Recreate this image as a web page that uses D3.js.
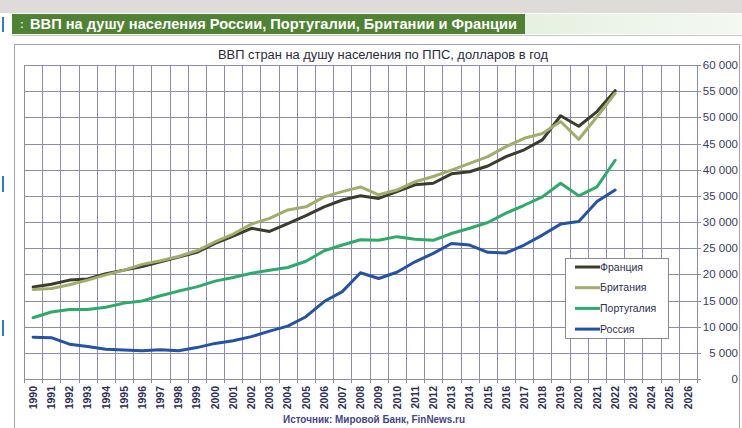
<!DOCTYPE html>
<html>
<head>
<meta charset="utf-8">
<script src="https://cdn.jsdelivr.net/npm/d3@7"></script>
<style>
	body {margin:0; padding:0; background:#fff;}
	svg {display:block; font-family:"Liberation Sans", Arial, sans-serif;}
</style>
</head>
<body>
<svg id="chart" width="742" height="428"></svg>
<script>
// years on the category axis (the axis runs on to 2026 with no data)
var years = d3.range(1990, 2027);
var dataYears = d3.range(1990, 2023);

var france = [17600, 18100, 18900, 19100, 20100, 20800, 21500, 22400, 23300, 24200,
	25900, 27300, 28800, 28200, 29700, 31200, 32900, 34200, 35000, 34500,
	35800, 37100, 37400, 39200, 39600, 40700, 42500, 43800, 45700, 50300,
	48300, 51100, 55100];
var britain = [17100, 17300, 18000, 18900, 19900, 20800, 21900, 22600, 23400, 24500,
	26200, 27700, 29600, 30700, 32300, 32900, 34800, 35800, 36700, 35200,
	36100, 37700, 38700, 39900, 41200, 42500, 44400, 46000, 46900, 49200,
	45800, 50100, 54600];
var portugal = [11700, 12800, 13300, 13300, 13700, 14500, 14900, 15900, 16800, 17600,
	18700, 19400, 20200, 20800, 21300, 22500, 24500, 25600, 26600, 26500,
	27200, 26700, 26500, 27800, 28800, 29900, 31700, 33200, 34800, 37400,
	35000, 36700, 41800];
var russia = [8000, 7900, 6650, 6200, 5700, 5550, 5400, 5600, 5400, 6000,
	6800, 7300, 8100, 9150, 10100, 11900, 14800, 16700, 20300, 19200,
	20400, 22400, 24000, 25900, 25600, 24200, 24100, 25600, 27500, 29600,
	30100, 33900, 36100];

var seriesNames = ["Франция", "Британия", "Португалия", "Россия"];
var seriesColors = ["#3d3a2e", "#a3ad6b", "#2eaa6a", "#2453a6"];
var yTicks = d3.range(0, 60001, 5000);

var series = [france, britain, portugal, russia].map(function(values, i) {
	return {
		name: seriesNames[i],
		color: seriesColors[i],
		values: values.map(function(v, j) {return {year: dataYears[j], v: v};})
	};
});

var svg = d3.select("#chart");

var plot = {left: 24, right: 697, top: 65, bottom: 379};

var x = d3.scaleBand()
	.domain(years)
	.range([plot.left, plot.right])
	.paddingInner(0)
	.paddingOuter(0)
;
var y = d3.scaleLinear()
	.domain([0, 60000])
	.range([plot.bottom, plot.top])
;

//Page decoration: gray top band, header bar
svg.append("rect")
	.attr("x", 0).attr("y", 0)
	.attr("width", 742).attr("height", 13)
	.attr("fill", "#dedbd8")
;

var defs = svg.append("defs");
var grad = defs.append("linearGradient")
	.attr("id", "headFade")
	.attr("x1", "0").attr("x2", "1").attr("y1", "0").attr("y2", "0")
;
grad.append("stop").attr("offset", "0").attr("stop-color", "#c3dcb8");
grad.append("stop").attr("offset", "1").attr("stop-color", "#f4f9f1");

svg.append("rect")
	.attr("x", 12).attr("y", 14)
	.attr("width", 730).attr("height", 20)
	.attr("fill", "url(#headFade)")
;
svg.append("rect")
	.attr("x", 12).attr("y", 14)
	.attr("width", 513).attr("height", 20)
	.attr("fill", "#4f8233")
;
svg.append("line")
	.attr("x1", 12).attr("x2", 742)
	.attr("y1", 35.5).attr("y2", 35.5)
	.attr("stroke", "#c8c8c8")
;
svg.append("text")
	.attr("x", 20).attr("y", 28)
	.attr("fill", "#e8f0e0")
	.style("font-size", "11px")
	.style("font-weight", "bold")
	.text(":")
;
svg.append("text")
	.attr("x", 30).attr("y", 29)
	.attr("fill", "#ffffff")
	.attr("textLength", 487)
	.attr("lengthAdjust", "spacingAndGlyphs")
	.style("font-size", "15px")
	.style("font-weight", "bold")
	.text("ВВП на душу населения России, Португалии, Британии и Франции")
;

//little blue marks on the left margin
[[17, 32], [176, 192], [320, 336]].forEach(function(m) {
	svg.append("line")
		.attr("x1", 3).attr("x2", 3)
		.attr("y1", m[0]).attr("y2", m[1])
		.attr("stroke", "#2f7fc8")
		.attr("stroke-width", 2)
	;
});

//Chart box
svg.append("path")
	.attr("d", "M14.5,428V44.5H739.5V428")
	.attr("fill", "none")
	.attr("stroke", "#a4a4ac")
;

svg.append("text")
	.attr("x", 383).attr("y", 59)
	.attr("text-anchor", "middle")
	.attr("fill", "#2b2b3b")
	.attr("textLength", 330)
	.attr("lengthAdjust", "spacingAndGlyphs")
	.style("font-size", "12px")
	.text("ВВП стран на душу населения по ППС, долларов в год")
;

//Grid
var grid = svg.append("g").attr("class", "grid");

grid.selectAll("line.h")
	.data(yTicks)
	.enter().append("line")
		.attr("class", "h")
		.attr("x1", plot.left)
		.attr("x2", plot.right + 4)
		.attr("y1", function(d) {return Math.round(y(d)) + 0.5;})
		.attr("y2", function(d) {return Math.round(y(d)) + 0.5;})
		.attr("stroke", "#8c8ca2")
;

var bounds = years.map(function(d) {return x(d);}).concat([plot.right]);
grid.selectAll("line.v")
	.data(bounds)
	.enter().append("line")
		.attr("class", "v")
		.attr("x1", function(d) {return Math.round(d) + 0.5;})
		.attr("x2", function(d) {return Math.round(d) + 0.5;})
		.attr("y1", plot.top)
		.attr("y2", plot.bottom + 4)
		.attr("stroke", "#8c8ca2")
;

//Right axis labels
svg.append("g")
	.selectAll("text")
	.data(yTicks)
	.enter().append("text")
		.attr("x", 738)
		.attr("y", function(d) {return y(d);})
		.attr("dy", "0.35em")
		.attr("text-anchor", "end")
		.attr("fill", "#3b3b5c")
		.style("font-size", "11.5px")
		.text(function(d) {return d3.format(",")(d).replace(/,/g, " ");})
;

//Year labels, rotated
svg.append("g")
	.selectAll("text")
	.data(years)
	.enter().append("text")
		.attr("transform", function(d) {return "translate(" + (x(d) + x.bandwidth() / 2) + "," + (plot.bottom + 7) + ") rotate(-90)";})
		.attr("dy", "0.35em")
		.attr("text-anchor", "end")
		.attr("fill", "#2f2f55")
		.style("font-size", "10.5px")
		.style("font-weight", "bold")
		.text(function(d) {return d;})
;

//Lines
var line = d3.line()
	.x(function(d) {return x(d.year) + x.bandwidth() / 2;})
	.y(function(d) {return y(d.v);})
;

svg.append("g")
	.selectAll("path")
	.data(series)
	.enter().append("path")
		.attr("d", function(d) {return line(d.values);})
		.attr("fill", "none")
		.attr("stroke", function(d) {return d.color;})
		.attr("stroke-width", 3)
		.attr("stroke-linejoin", "round")
		.attr("stroke-linecap", "round")
;

//Legend
var legend = svg.append("g").attr("transform", "translate(565,258)");
legend.append("rect")
	.attr("x", 0.5).attr("y", 0.5)
	.attr("width", 103).attr("height", 80)
	.attr("fill", "#fff")
	.attr("stroke", "#8a8a8a")
;
var items = legend.selectAll("g.item")
	.data(series)
	.enter().append("g")
		.attr("class", "item")
		.attr("transform", function(d, i) {return "translate(0," + (9 + i * 20.7) + ")";})
;
items.append("line")
	.attr("x1", 10).attr("x2", 35)
	.attr("stroke", function(d) {return d.color;})
	.attr("stroke-width", 3)
;
items.append("text")
	.attr("x", 35)
	.attr("dy", "0.35em")
	.attr("fill", "#303050")
	.style("font-size", "10.5px")
	.text(function(d) {return d.name;})
;

//Source
svg.append("text")
	.attr("x", 374).attr("y", 423)
	.attr("text-anchor", "middle")
	.attr("fill", "#45458a")
	.attr("textLength", 182)
	.attr("lengthAdjust", "spacingAndGlyphs")
	.style("font-size", "10.5px")
	.style("font-weight", "bold")
	.text("Источник: Мировой Банк, FinNews.ru")
;
</script>
</body>
</html>
